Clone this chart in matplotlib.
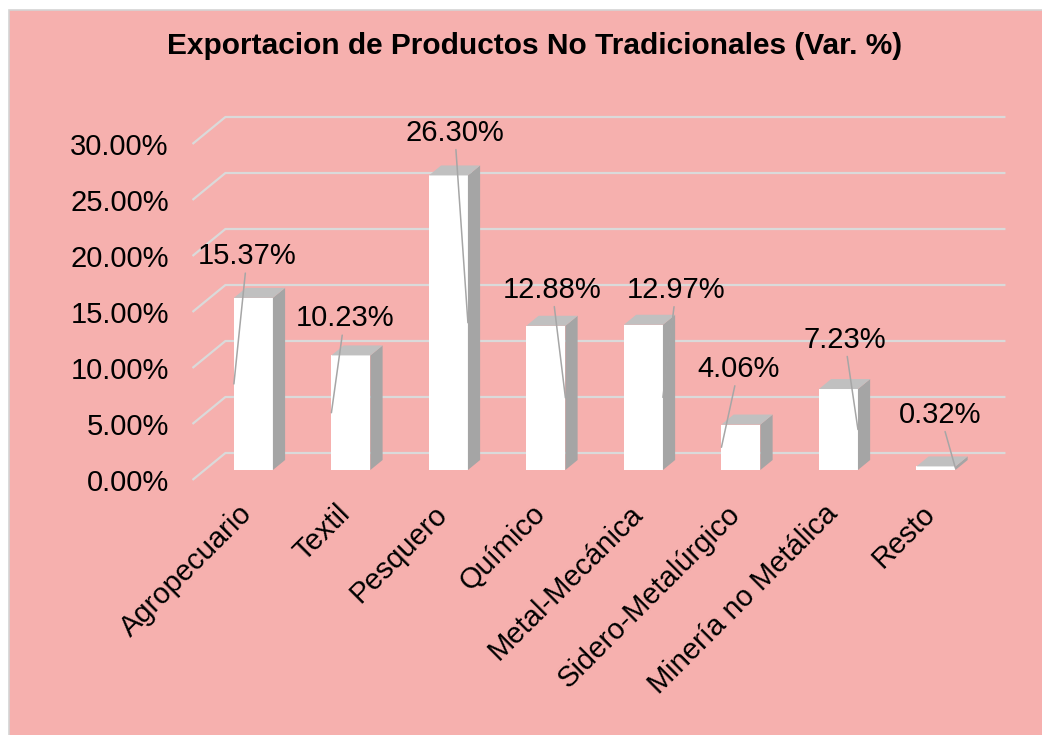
import matplotlib.pyplot as plt
from matplotlib.patches import Polygon, Rectangle

# Datos
categorias = ['Agropecuario', 'Textil', 'Pesquero', 'Químico', 'Metal-Mecánica',
              'Sidero-Metalúrgico', 'Minería no Metálica', 'Resto']
variacion = [15.37, 10.23, 26.30, 12.88, 12.97, 4.06, 7.23, 0.32]
marcas_y = [0, 5, 10, 15, 20, 25, 30]

# Posicion de las etiquetas respecto a la barra (dx, dy) y lado de la linea guia
desplaz_etiquetas = [(0.06, 4.6), (0.06, 4.2), (0.19, 4.7), (0.19, 4.1),
                     (0.46, 4.0), (0.10, 5.85), (0.19, 5.3), (0.17, 5.5)]
lado_guia = [-1, -1, 1, 1, 1, -1, 1, 1]

# Proyeccion oblicua (profundidad -> desplazamiento en x y en y)
DX, DY = 0.338, 2.41
D0, D1 = 0.37, 0.74
ANCHO = 0.4

ROSA = '#F6B0AE'
plt.rcParams['font.family'] = ['Liberation Sans', 'DejaVu Sans']

fig = plt.figure(figsize=(10.42, 7.35), dpi=100)
fig.patch.set_facecolor('white')
fig.patches.append(Rectangle((9 / 1042, -0.05), 1.1, 1.05 - 10 / 735, transform=fig.transFigure,
                             facecolor=ROSA, edgecolor='#D4D4D4', linewidth=1.2, zorder=-1))

ax = fig.add_axes([0.1847, 0.3241, 0.7954, 0.5257])
ax.set_facecolor('none')
n = len(categorias)
ax.set_xlim(-0.5, 8.0)
ax.set_ylim(-1.5, 33)

# Lineas de la cuadricula (pared lateral + fondo)
for v in marcas_y:
    ax.plot([-0.5, -0.5 + DX, n - 0.5 + DX], [v, v + DY, v + DY],
            color='#DADADA', lw=1.6, zorder=1, solid_capstyle='butt')

# Barras en 3D
for i, v in enumerate(variacion):
    x0 = i - ANCHO / 2 + D0 * DX
    ax.bar(x0 + ANCHO / 2, v, bottom=D0 * DY, width=ANCHO, color='white',
           edgecolor='none', zorder=3 + i)
    x1 = x0 + ANCHO
    lado = Polygon([(x1, D0 * DY), (x1 + (D1 - D0) * DX, D1 * DY),
                    (x1 + (D1 - D0) * DX, D1 * DY + v), (x1, D0 * DY + v)],
                   closed=True, facecolor='#A5A5A5', edgecolor='none', zorder=3 + i)
    tapa = Polygon([(x0, D0 * DY + v), (x1, D0 * DY + v),
                    (x1 + (D1 - D0) * DX, D1 * DY + v), (x0 + (D1 - D0) * DX, D1 * DY + v)],
                   closed=True, facecolor='#C0C0C0', edgecolor='none', zorder=3 + i)
    ax.add_patch(lado)
    ax.add_patch(tapa)

# Etiquetas de datos con linea guia
for i, v in enumerate(variacion):
    dx, dy = desplaz_etiquetas[i]
    xb = i + D0 * DX + lado_guia[i] * ANCHO / 2
    yb = D0 * DY + v / 2
    ax.annotate(f'{v:.2f}%', xy=(xb, yb), xytext=(i + dx, v + dy),
                ha='center', va='center', fontsize=21, color='black', zorder=20,
                arrowprops=dict(arrowstyle='-', color='#A6A6A6', lw=1.1,
                                shrinkA=0, shrinkB=0))

ax.set_yticks(marcas_y)
ax.set_yticklabels([f'{m:.2f}%' for m in marcas_y], fontsize=21)
ax.set_xticks([i - 0.03 for i in range(n)])
ax.set_xticklabels(categorias, rotation=45, ha='right', rotation_mode='anchor', fontsize=21)
ax.tick_params(axis='y', length=0, pad=17)
ax.tick_params(axis='x', length=0, pad=2)
for s in ax.spines.values():
    s.set_visible(False)

fig.text(0.513, 0.937, 'Exportacion de Productos No Tradicionales (Var. %)',
         ha='center', va='center', fontsize=21.5, fontweight='bold')

fig.savefig('out.png', dpi=100, facecolor=fig.get_facecolor())
